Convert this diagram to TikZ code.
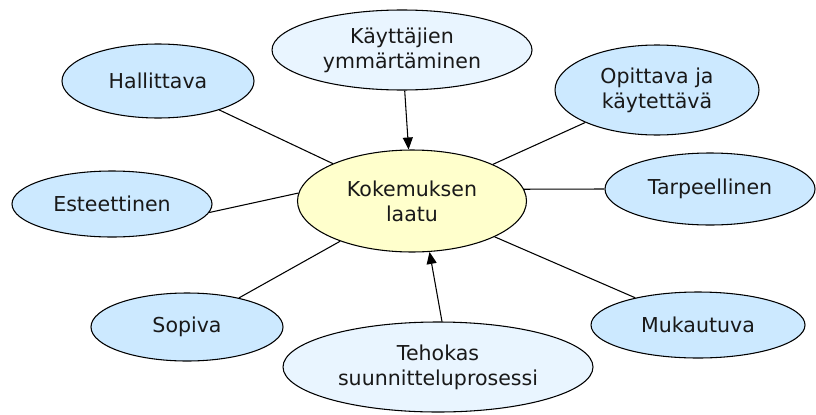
\documentclass[tikz,border=0pt]{standalone}
\usepackage{fontspec}
\setmainfont{DejaVu Sans}
\usetikzlibrary{shapes.geometric, arrows.meta}
\definecolor{bubbleblue}{HTML}{CCE9FF}
\definecolor{paleblue}{HTML}{E9F5FF}
\definecolor{coreyellow}{HTML}{FFFFCC}

\begin{document}
\begin{tikzpicture}[x=0.75pt, y=-0.75pt,
    bubble/.style={ellipse, draw, line width=0.8pt, fill=bubbleblue, align=center,
        inner sep=1pt, text=black!90, font=\fontsize{15.4}{18.8}\selectfont},
    palebubble/.style={bubble, fill=paleblue},
    core/.style={bubble, fill=coreyellow},
    link/.style={line width=0.8pt},
    push/.style={line width=0.8pt, -{Triangle[length=9pt, width=7.5pt]}}]
    \useasboundingbox (0,0) rectangle (816,414);

    \node[core, minimum width=171.75pt, minimum height=76.5pt] (koke) at (412,201) {Kokemuksen\\laatu};
    \node[palebubble, minimum width=195pt, minimum height=60pt] (kayt) at (402,50) {Käyttäjien\\ymmärtäminen};
    \node[bubble, minimum width=144pt, minimum height=55.5pt] (hall) at (158,81) {Hallittava};
    \node[bubble, minimum width=153pt, minimum height=67.5pt] (opit) at (657,90) {Opittava ja\\käytettävä};
    \node[bubble, minimum width=150pt, minimum height=49.5pt] (este) at (112,204) {Esteettinen};
    \node[bubble, minimum width=157.5pt, minimum height=54pt] (tarp) at (710,189) {Tarpeellinen};
    \node[bubble, minimum width=144pt, minimum height=51pt] (sopi) at (187,327) {Sopiva};
    \node[bubble, minimum width=160.5pt, minimum height=49.5pt] (muka) at (698,325) {Mukautuva};
    \node[palebubble, minimum width=232.5pt, minimum height=67.5pt] (teho) at (438,367) {Tehokas\\suunnitteluprosessi};

    \path[link]
    (hall) edge (koke)
        (opit) edge (koke)
    (este.-5) edge (koke.176)
        (tarp.west) edge (koke.6)
    (sopi) edge (koke)
        (muka) edge (koke);

    \path[push]
    (kayt) edge (koke)
        (teho.85) edge (koke.-71);
\end{tikzpicture}
\end{document}
